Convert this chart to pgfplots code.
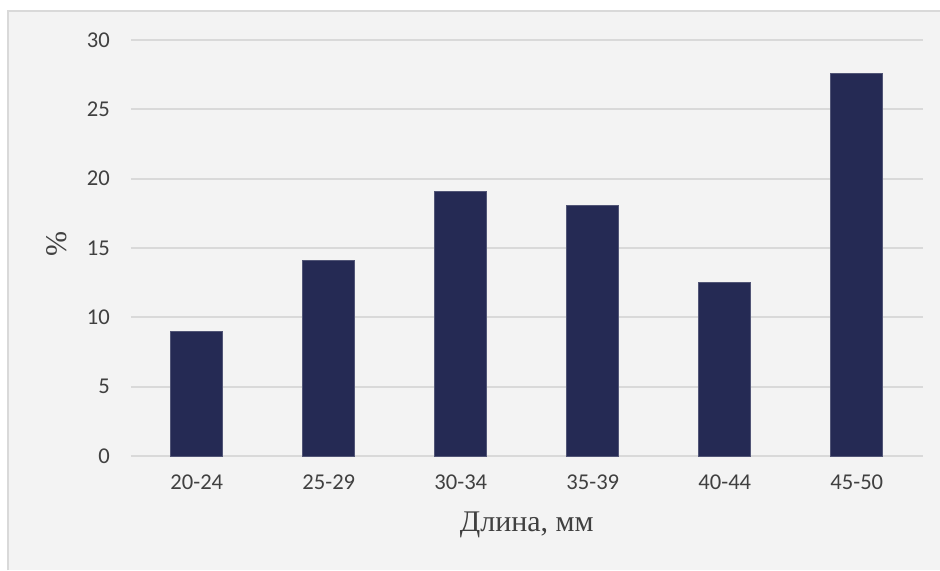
\documentclass[border=0pt]{standalone}
\usepackage{pgfplots}
\pgfplotsset{compat=1.18}
\usepackage{fontspec}
\setmainfont{Carlito}
\newfontfamily\serif{Liberation Serif}
\definecolor{bgc}{HTML}{F3F3F3}
\definecolor{bordc}{HTML}{D9D9D9}
\definecolor{gridc}{HTML}{D9D9D9}
\definecolor{barc}{HTML}{252A54}
\definecolor{txtc}{HTML}{404040}
\begin{document}
\begin{tikzpicture}
\useasboundingbox (0pt,0pt) rectangle (470pt,285pt);
\fill[white] (0pt,0pt) rectangle (470pt,285pt);
\fill[bgc] (4pt,0pt) rectangle (470pt,279.5pt);
\draw[bordc,line width=1.2pt] (4pt,0pt) -- (4pt,279.5pt) -- (470pt,279.5pt);
\begin{axis}[
  at={(65.4pt,57pt)}, anchor=south west,
  scale only axis, width=396pt, height=208pt,
  xmin=-0.5, xmax=5.5, ymin=0, ymax=30,
  axis line style={draw=none},
  xtick={0,1,2,3,4,5},
  xticklabels={20-24,25-29,30-34,35-39,40-44,45-50},
  ytick={0,5,10,15,20,25,30},
  ymajorgrids, xmajorgrids=false, grid style={draw=gridc,line width=1pt},
  major tick length=0pt,
  tick label style={font=\fontsize{11.3}{13}\selectfont, text=txtc},
  /pgf/number format/assume math mode=true,
  yticklabel style={xshift=-7pt},
  xticklabel style={yshift=-6pt},
  xlabel={\serif Длина, мм},
  ylabel={\serif \%},
  xlabel style={font=\fontsize{15}{17}\selectfont, text=txtc, at={(axis description cs:0.5,0)}, anchor=center, yshift=-34.5pt},
  ylabel style={font=\fontsize{15}{17}\selectfont, text=txtc, at={(axis description cs:-0.0934,0.51)}, anchor=center},
  clip=false,
]
\addplot[ybar, bar width=26pt, fill=barc, draw=barc!80!white, line width=0.4pt] coordinates {
 (0,9.0) (1,14.1) (2,19.1) (3,18.1) (4,12.5) (5,27.6)
};
\end{axis}
\end{tikzpicture}
\end{document}
